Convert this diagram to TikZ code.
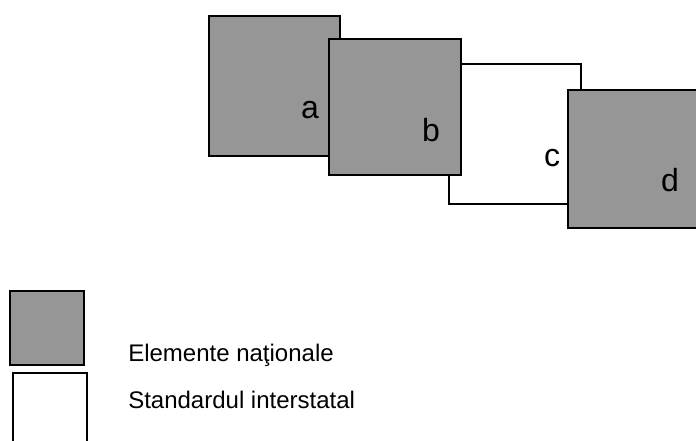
\documentclass[tikz,border=0pt]{standalone}
\usepackage{fontspec}
\setmainfont{Liberation Sans}
\usetikzlibrary{shapes.misc, shapes}

\definecolor{natgray}{RGB}{150,150,150}

\tikzset{
	natbox/.style={draw, line width=1.5pt, fill=natgray},
	stdbox/.style={draw, line width=1.5pt, fill=white},
	lbl/.style={anchor=base, inner sep=0pt, font=\fontsize{24}{28}\selectfont},
	legtext/.style={anchor=base west, inner sep=0pt, font=\fontsize{18}{22}\selectfont}
}

\begin{document}
\begin{tikzpicture}[x=0.75pt,y=-0.75pt]
	\useasboundingbox (0,0) rectangle (696,441);
	\clip (0,0) rectangle (696,441);
	% the four blocks
	\path[natbox] (209,16) rectangle (340,156);
	\path[stdbox] (449,64) rectangle (581,204);
	\path[natbox] (329,39) rectangle (461,175);
	\path[natbox] (568,90) rectangle (710,228);
	\node[lbl] (la) at (310,119) {a};
	\node[lbl] (lb) at (431,142) {b};
	\node[lbl] (lc) at (552,167) {c};
	\node[lbl] (ld) at (670,192) {d};
	% legend
	\path[natbox] (10,291) rectangle (84,365);
	\path[stdbox] (13,373) rectangle (87,460);
	\node[legtext] (nat) at (128,362) {Elemente naţionale};
	\node[legtext] (std) at (128,408) {Standardul interstatal};
\end{tikzpicture}
\end{document}
